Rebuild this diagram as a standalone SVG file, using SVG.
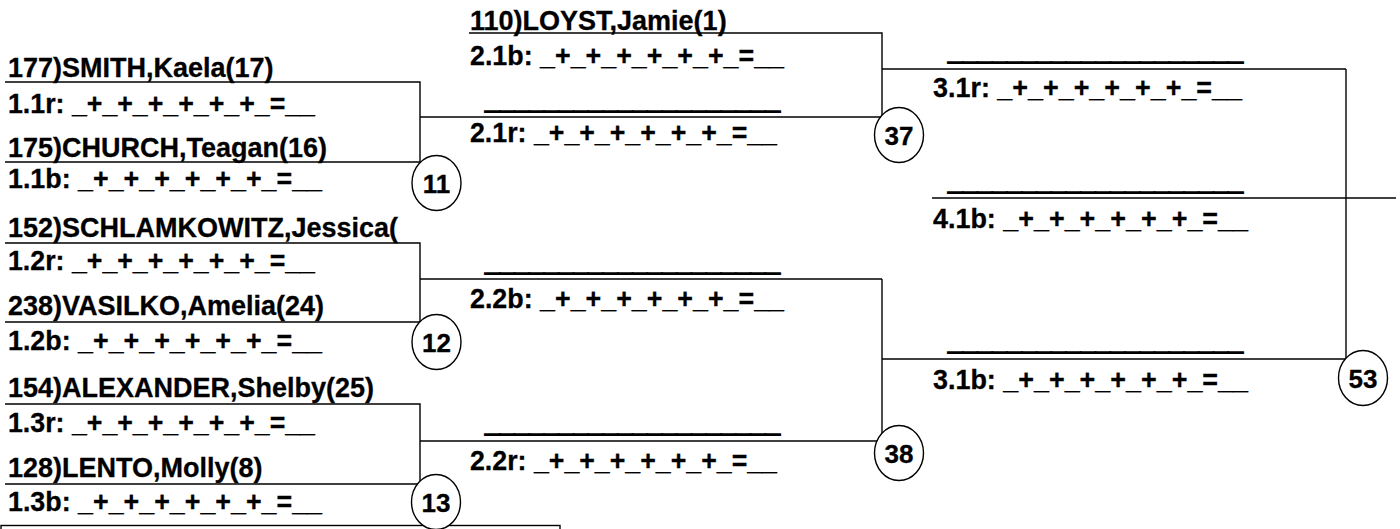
<svg xmlns="http://www.w3.org/2000/svg" width="1400" height="529" viewBox="0 0 1400 529">
<style>
text{font-family:"Liberation Sans",Arial,sans-serif;font-weight:bold;font-size:27px;fill:#000;stroke:#000;stroke-width:0.3}
.sr{}
.ul{stroke-width:1.6}
.num{font-size:26px;text-anchor:middle}
line,.ln{stroke:#000;stroke-width:1.4;fill:none}
ellipse{fill:#fff;stroke:#000;stroke-width:1.4}
</style>
<rect width="1400" height="529" fill="#fff"/>
<g id="connectors">
  <polyline class="ln" points="5,82 420,82 420,162 5,162"/>
  <line x1="420" y1="117" x2="882" y2="117"/>
  <polyline class="ln" points="5,243 420,243 420,322 5,322"/>
  <line x1="420" y1="279" x2="882" y2="279"/>
  <polyline class="ln" points="5,404 420,404 420,484 5,484"/>
  <line x1="420" y1="441" x2="882" y2="441"/>
  <polyline class="ln" points="469,33 882,33 882,117"/>
  <line x1="882" y1="279" x2="882" y2="441"/>
  <line x1="882" y1="69" x2="1346" y2="69"/>
  <line x1="882" y1="359" x2="1346" y2="359"/>
  <line x1="1346" y1="69" x2="1346" y2="359"/>
  <line x1="932" y1="198" x2="1396" y2="198"/>
  <rect class="ln" x="1" y="525.5" width="559" height="20"/>
</g>
<g id="m1-1">
  <text x="8" y="77">177)SMITH,Kaela(17)</text>
  <text x="8" y="113" textLength="307" lengthAdjust="spacingAndGlyphs">1.1r: _+_+_+_+_+_+_=__</text>
  <text x="8" y="157">175)CHURCH,Teagan(16)</text>
  <text x="8" y="188" textLength="314" lengthAdjust="spacingAndGlyphs">1.1b: _+_+_+_+_+_+_=__</text>
</g>
<g id="m1-2">
  <text x="8" y="237">152)SCHLAMKOWITZ,Jessica(</text>
  <text x="8" y="270" textLength="307" lengthAdjust="spacingAndGlyphs">1.2r: _+_+_+_+_+_+_=__</text>
  <text x="8" y="315">238)VASILKO,Amelia(24)</text>
  <text x="8" y="350" textLength="314" lengthAdjust="spacingAndGlyphs">1.2b: _+_+_+_+_+_+_=__</text>
</g>
<g id="m1-3">
  <text x="8" y="397">154)ALEXANDER,Shelby(25)</text>
  <text x="8" y="432" textLength="307" lengthAdjust="spacingAndGlyphs">1.3r: _+_+_+_+_+_+_=__</text>
  <text x="8" y="477">128)LENTO,Molly(8)</text>
  <text x="8" y="511" textLength="314" lengthAdjust="spacingAndGlyphs">1.3b: _+_+_+_+_+_+_=__</text>
</g>
<g id="m2-1">
  <text x="470" y="30">110)LOYST,Jamie(1)</text>
  <text x="470" y="65" textLength="314" lengthAdjust="spacingAndGlyphs">2.1b: _+_+_+_+_+_+_=__</text>
  <text class="ul" x="485" y="108.5" textLength="295" lengthAdjust="spacingAndGlyphs">____________________</text>
  <text x="470" y="142" textLength="307" lengthAdjust="spacingAndGlyphs">2.1r: _+_+_+_+_+_+_=__</text>
</g>
<g id="m2-2">
  <text class="ul" x="485" y="270.5" textLength="295" lengthAdjust="spacingAndGlyphs">____________________</text>
  <text x="470" y="308" textLength="314" lengthAdjust="spacingAndGlyphs">2.2b: _+_+_+_+_+_+_=__</text>
  <text class="ul" x="485" y="431.5" textLength="295" lengthAdjust="spacingAndGlyphs">____________________</text>
  <text x="470" y="470" textLength="307" lengthAdjust="spacingAndGlyphs">2.2r: _+_+_+_+_+_+_=__</text>
</g>
<g id="m3-1">
  <text class="ul" x="948" y="60" textLength="295" lengthAdjust="spacingAndGlyphs">____________________</text>
  <text x="933" y="96.5" textLength="309" lengthAdjust="spacingAndGlyphs">3.1r: _+_+_+_+_+_+_=__</text>
  <text class="ul" x="948" y="350" textLength="295" lengthAdjust="spacingAndGlyphs">____________________</text>
  <text x="933" y="389" textLength="315" lengthAdjust="spacingAndGlyphs">3.1b: _+_+_+_+_+_+_=__</text>
</g>
<g id="m4-1">
  <text class="ul" x="948" y="189.5" textLength="295" lengthAdjust="spacingAndGlyphs">____________________</text>
  <text x="933" y="228" textLength="315" lengthAdjust="spacingAndGlyphs">4.1b: _+_+_+_+_+_+_=__</text>
</g>
<g id="c11"><ellipse cx="436.5" cy="183" rx="24.5" ry="27.5"/><text class="num" x="436.5" y="192.5">11</text></g>
<g id="c12"><ellipse cx="436.5" cy="342" rx="24.5" ry="27.5"/><text class="num" x="436.5" y="351.5">12</text></g>
<g id="c13"><ellipse cx="436" cy="502" rx="24.5" ry="27.5"/><text class="num" x="436" y="511.5">13</text></g>
<g id="c37"><ellipse cx="899" cy="135" rx="24.5" ry="27.5"/><text class="num" x="899" y="144.5">37</text></g>
<g id="c38"><ellipse cx="899" cy="453" rx="24.5" ry="27.5"/><text class="num" x="899" y="462.5">38</text></g>
<g id="c53"><ellipse cx="1363" cy="378" rx="24.5" ry="27.5"/><text class="num" x="1363" y="387.5">53</text></g>
</svg>
